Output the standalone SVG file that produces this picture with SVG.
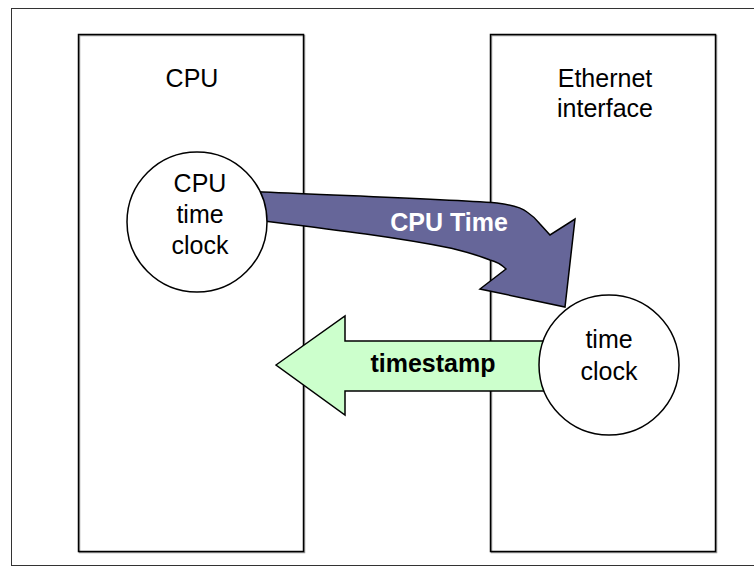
<svg xmlns="http://www.w3.org/2000/svg" width="754" height="567" viewBox="0 0 754 567">
<style>
.lbl{font-family:"Liberation Sans",Arial,sans-serif;font-size:25px;fill:#000;text-anchor:middle}
.bold{font-weight:bold}
.box{fill:none;stroke:#000;stroke-width:1.5}
.shadow{fill:none;stroke:#999;stroke-width:1.5}
.circ{fill:#fff;stroke:#000;stroke-width:1.5}
.arrow{stroke:#000;stroke-width:1.5;stroke-linejoin:miter}
</style>
<rect width="754" height="567" fill="#fff"/>
<rect x="11.5" y="8.5" width="760" height="557" fill="none" stroke="#333" stroke-width="1"/>
<g id="cpu-box">
<rect class="shadow" x="79.5" y="35.5" width="225" height="517"/>
<rect class="box" x="78.5" y="34.5" width="225" height="517"/>
<text class="lbl" x="192" y="87">CPU</text>
</g>
<g id="eth-box">
<rect class="shadow" x="491.5" y="35.5" width="225" height="517"/>
<rect class="box" x="490.5" y="34.5" width="225" height="517"/>
<text class="lbl" x="605" y="87">Ethernet</text>
<text class="lbl" x="605" y="117">interface</text>
</g>
<g id="connectors">
<path id="cpu-time-arrow" class="arrow" fill="#666699" d="M240,191 L263,192 C350,196 440,199 497,203 C512,205 522,208 527,212 C533,216 537,220 540,224 L550,235 L575,219 L565,307 L480,289 L506,269 C500,263 494,261 490,260 C475,254 462,251 450,248 C390,236 320,228 240,218 Z"/>
<text class="lbl bold" x="449" y="231" fill="#fff" style="fill:#fff">CPU Time</text>
<path id="timestamp-arrow" class="arrow" fill="#ccffcc" d="M276,365 L345,316 L345,341 L580,341 L580,391 L345,391 L345,415 Z"/>
<text class="lbl bold" x="433" y="372">timestamp</text>
</g>
<g id="cpu-clock">
<circle class="circ" cx="197" cy="222" r="70"/>
<text class="lbl" x="200" y="192">CPU</text>
<text class="lbl" x="200" y="223">time</text>
<text class="lbl" x="200" y="254">clock</text>
</g>
<g id="eth-clock">
<circle class="circ" cx="609" cy="365" r="70"/>
<text class="lbl" x="609" y="348">time</text>
<text class="lbl" x="609" y="380">clock</text>
</g>
</svg>
